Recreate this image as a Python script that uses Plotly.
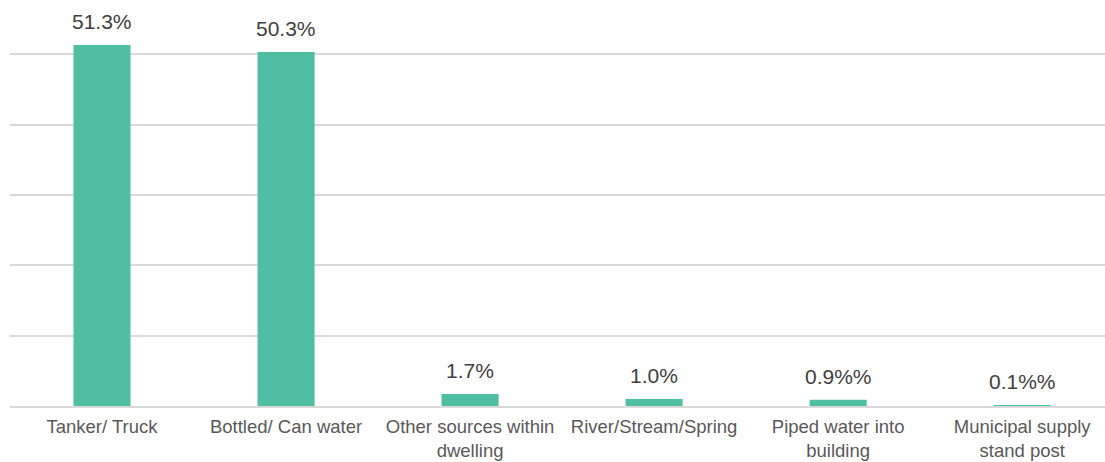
import plotly.graph_objects as go

# Main drinking water sources (share of households, %)
categories = [
    "Tanker/ Truck",
    "Bottled/ Can water",
    "Other sources within<br>dwelling",
    "River/Stream/Spring",
    "Piped water into<br>building",
    "Municipal supply<br>stand post",
]
values = [51.3, 50.3, 1.7, 1.0, 0.9, 0.1]
value_labels = ["51.3%", "50.3%", "1.7%", "1.0%", "0.9%%", "0.1%%"]

bar_color = "#50bea2"
font_family = "Liberation Sans, Arial, sans-serif"

fig = go.Figure(
    go.Bar(
        x=categories,
        y=values,
        marker=dict(color=bar_color, line=dict(width=0)),
        width=0.31,
        hoverinfo="skip",
    )
)

for cat, val, lab in zip(categories, values, value_labels):
    fig.add_annotation(
        x=cat,
        y=val,
        text=lab,
        showarrow=False,
        yanchor="bottom",
        yshift=10,
        font=dict(family=font_family, size=21, color="#404040"),
    )

fig.update_layout(
    width=1105,
    height=462,
    margin=dict(l=10, r=0, t=0, b=56),
    paper_bgcolor="white",
    plot_bgcolor="white",
    showlegend=False,
    font=dict(family=font_family, size=18.5, color="#595959"),
)

fig.update_xaxes(
    range=[-0.5, 5.45],
    showgrid=False,
    showline=True,
    linecolor="#d9d9d9",
    linewidth=2,
    ticks="",
    ticklabelstandoff=3,
    tickfont=dict(size=18.5, color="#595959"),
)

fig.update_yaxes(
    range=[0, 57.7],
    dtick=10,
    showgrid=True,
    gridcolor="#d9d9d9",
    gridwidth=1.5,
    zeroline=False,
    showticklabels=False,
    ticks="",
)

fig.write_html("out.html")
